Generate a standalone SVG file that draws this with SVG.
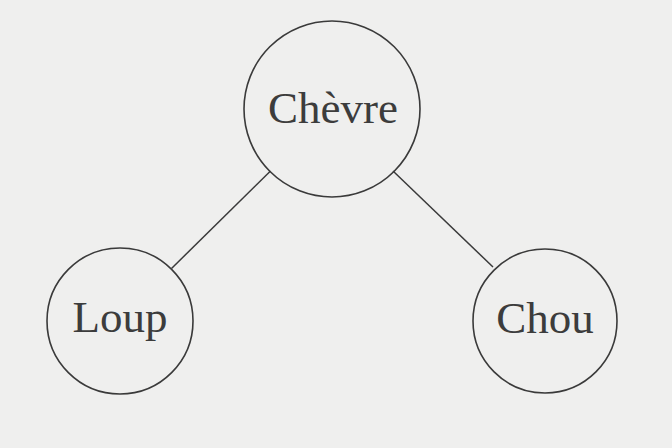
<svg xmlns="http://www.w3.org/2000/svg" width="672" height="448" viewBox="0 0 672 448">
<style>
.node circle{fill:none;stroke:#3a3a3a;stroke-width:1.6}
.node text{font-family:"Liberation Serif",serif;font-size:45px;fill:#3c3c3c;text-anchor:middle}
#edges line{stroke:#3a3a3a;stroke-width:1.5}
</style>
<rect width="672" height="448" fill="#efefee"/>
<g id="edges">
<line x1="270.5" y1="171" x2="171.5" y2="268.5"/>
<line x1="393" y1="171" x2="493" y2="267"/>
</g>
<g id="chevre" class="node">
<circle cx="332" cy="109" r="88"/>
<text x="333" y="123">Chèvre</text>
</g>
<g id="loup" class="node">
<circle cx="120" cy="321" r="73"/>
<text x="120" y="332">Loup</text>
</g>
<g id="chou" class="node">
<circle cx="545" cy="321" r="72"/>
<text x="545" y="333">Chou</text>
</g>
</svg>
